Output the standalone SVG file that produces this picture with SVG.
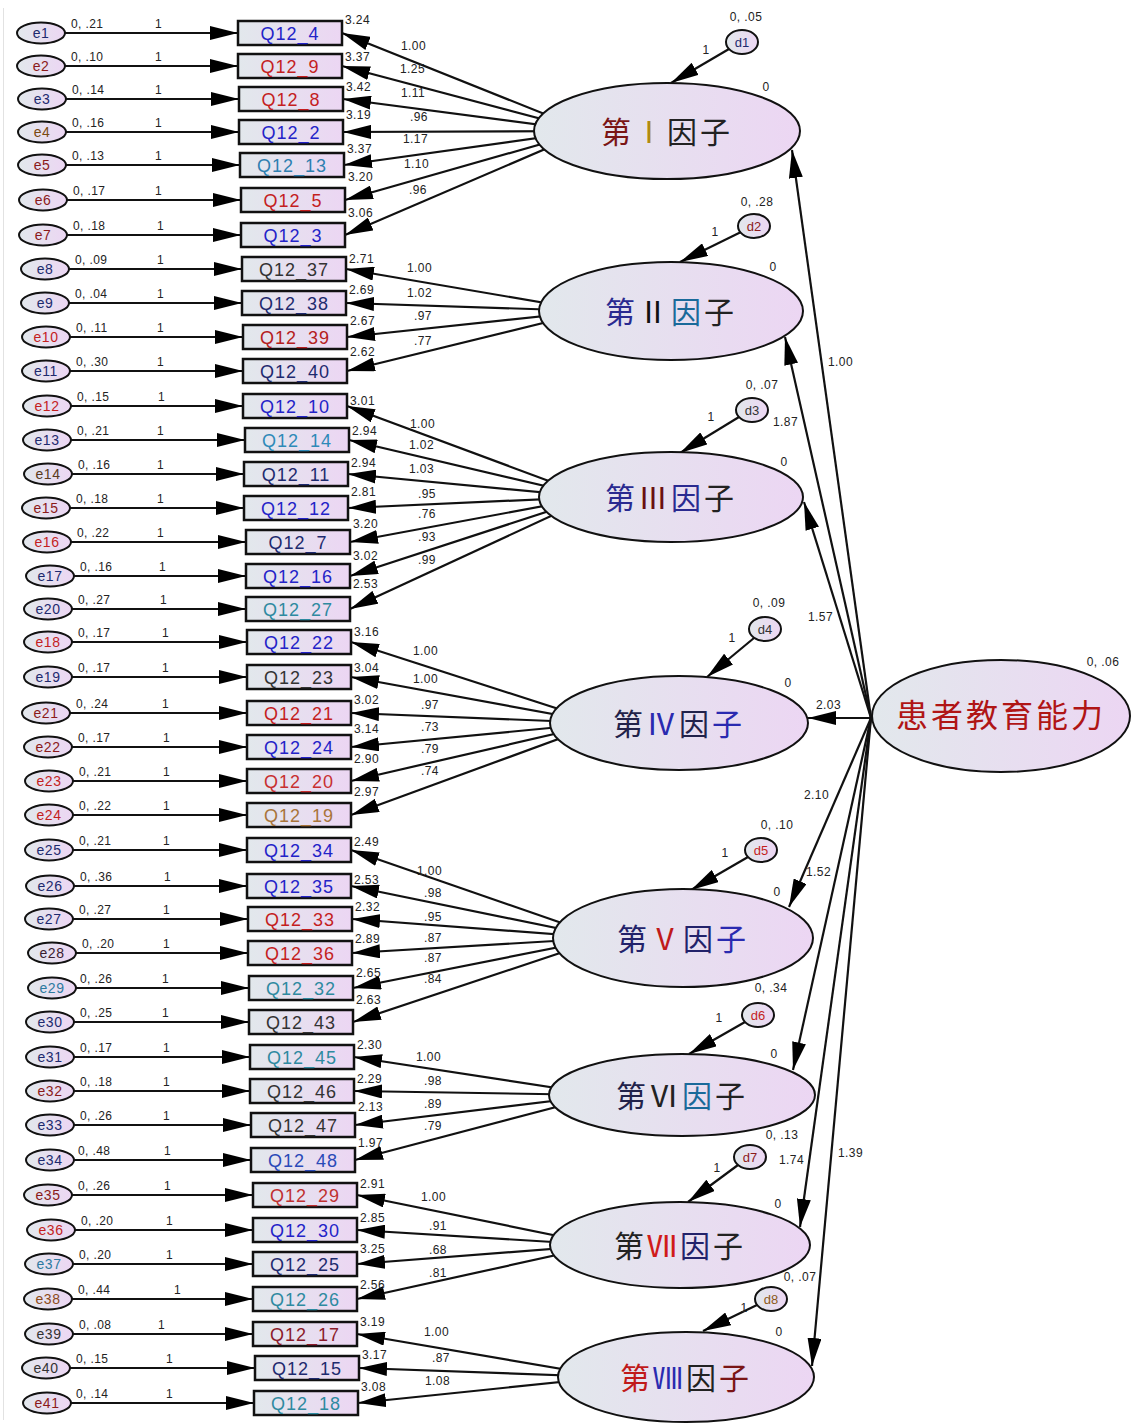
<svg xmlns="http://www.w3.org/2000/svg" width="1131" height="1423" viewBox="0 0 1131 1423">
<defs>
<linearGradient id="g" x1="0" y1="0" x2="1" y2="0"><stop offset="0" stop-color="#e2e8ec"/><stop offset="1" stop-color="#ecd6f3"/></linearGradient>
<marker id="ah" markerUnits="userSpaceOnUse" markerWidth="30" markerHeight="14" refX="28" refY="7" orient="auto"><path d="M0,0 L28,7 L0,14 z" fill="#000"/></marker>
<style>
.en ellipse,.dn ellipse,.fn ellipse{fill:url(#g);stroke:#111;stroke-width:2}
.bx{fill:url(#g);stroke:#111;stroke-width:2.5}
#connectors line{stroke:#111;stroke-width:2.2;fill:none;marker-end:url(#ah)}
.n{font-family:"Liberation Sans",Arial,sans-serif;font-size:12px;fill:#222;letter-spacing:0.4px}
.m{text-anchor:middle}
.el{font-family:"Liberation Sans",Arial,sans-serif;font-size:14px;text-anchor:middle;letter-spacing:0.5px}
.bl{font-family:"Liberation Sans",Arial,sans-serif;font-size:18px;text-anchor:middle;letter-spacing:1px}
.dl{font-family:"Liberation Sans",Arial,sans-serif;font-size:13px;text-anchor:middle}
.fl{font-family:"Noto Sans CJK SC","Noto Sans CJK JP",sans-serif;font-size:30px;text-anchor:middle;letter-spacing:3px}
.tl{font-family:"Noto Sans CJK SC","Noto Sans CJK JP",sans-serif;font-size:32px;text-anchor:middle;letter-spacing:3px;fill:#b01515}
</style>
</defs>
<rect width="1131" height="1423" fill="#fff"/>
<line x1="3.5" y1="8" x2="3.5" y2="1420" stroke="#e2e2e2" stroke-width="1"/>
<g id="connectors">
<line x1="65" y1="33" x2="238" y2="33"/>
<line x1="65" y1="66" x2="238" y2="66"/>
<line x1="66" y1="99" x2="239" y2="99"/>
<line x1="66" y1="132" x2="239" y2="132"/>
<line x1="66" y1="165" x2="240" y2="165"/>
<line x1="67" y1="200" x2="241" y2="200"/>
<line x1="67" y1="235" x2="241" y2="235"/>
<line x1="69" y1="269" x2="242" y2="269"/>
<line x1="69" y1="303" x2="242" y2="303"/>
<line x1="70" y1="337" x2="243" y2="337"/>
<line x1="70" y1="371" x2="243" y2="371"/>
<line x1="71" y1="406" x2="243" y2="406"/>
<line x1="71" y1="440" x2="245" y2="440"/>
<line x1="72" y1="474" x2="244" y2="474"/>
<line x1="70" y1="508" x2="244" y2="508"/>
<line x1="71" y1="542" x2="246" y2="542"/>
<line x1="74" y1="576" x2="246" y2="576"/>
<line x1="72" y1="609" x2="246" y2="609"/>
<line x1="72" y1="642" x2="247" y2="642"/>
<line x1="72" y1="677" x2="247" y2="677"/>
<line x1="70" y1="713" x2="247" y2="713"/>
<line x1="72" y1="747" x2="247" y2="747"/>
<line x1="73" y1="781" x2="247" y2="781"/>
<line x1="73" y1="815" x2="247" y2="815"/>
<line x1="73" y1="850" x2="247" y2="850"/>
<line x1="74" y1="886" x2="247" y2="886"/>
<line x1="73" y1="919" x2="248" y2="919"/>
<line x1="76" y1="953" x2="248" y2="953"/>
<line x1="76" y1="988" x2="249" y2="988"/>
<line x1="74" y1="1022" x2="249" y2="1022"/>
<line x1="74" y1="1057" x2="250" y2="1057"/>
<line x1="74" y1="1091" x2="250" y2="1091"/>
<line x1="74" y1="1125" x2="251" y2="1125"/>
<line x1="74" y1="1160" x2="251" y2="1160"/>
<line x1="72" y1="1195" x2="253" y2="1195"/>
<line x1="75" y1="1230" x2="253" y2="1230"/>
<line x1="73" y1="1264" x2="253" y2="1264"/>
<line x1="72" y1="1299" x2="253" y2="1299"/>
<line x1="73" y1="1334" x2="253" y2="1334"/>
<line x1="70" y1="1368" x2="255" y2="1368"/>
<line x1="71" y1="1403" x2="254" y2="1403"/>
<line x1="587" y1="131" x2="342" y2="33"/>
<line x1="587" y1="131" x2="342" y2="66"/>
<line x1="587" y1="131" x2="343" y2="99"/>
<line x1="587" y1="131" x2="343" y2="132"/>
<line x1="587" y1="131" x2="344" y2="165"/>
<line x1="587" y1="131" x2="345" y2="200"/>
<line x1="587" y1="131" x2="345" y2="235"/>
<line x1="592" y1="311" x2="346" y2="269"/>
<line x1="592" y1="311" x2="346" y2="303"/>
<line x1="592" y1="311" x2="347" y2="337"/>
<line x1="592" y1="311" x2="347" y2="371"/>
<line x1="592" y1="497" x2="347" y2="406"/>
<line x1="592" y1="497" x2="349" y2="440"/>
<line x1="592" y1="497" x2="348" y2="474"/>
<line x1="592" y1="497" x2="348" y2="508"/>
<line x1="592" y1="497" x2="350" y2="542"/>
<line x1="592" y1="497" x2="350" y2="576"/>
<line x1="592" y1="497" x2="350" y2="609"/>
<line x1="602" y1="723" x2="351" y2="642"/>
<line x1="602" y1="723" x2="351" y2="677"/>
<line x1="602" y1="723" x2="351" y2="713"/>
<line x1="602" y1="723" x2="351" y2="747"/>
<line x1="602" y1="723" x2="351" y2="781"/>
<line x1="602" y1="723" x2="351" y2="815"/>
<line x1="605" y1="938" x2="351" y2="850"/>
<line x1="605" y1="938" x2="351" y2="886"/>
<line x1="605" y1="938" x2="352" y2="919"/>
<line x1="605" y1="938" x2="352" y2="953"/>
<line x1="605" y1="938" x2="353" y2="988"/>
<line x1="605" y1="938" x2="353" y2="1022"/>
<line x1="602" y1="1095" x2="354" y2="1057"/>
<line x1="602" y1="1095" x2="354" y2="1091"/>
<line x1="602" y1="1095" x2="355" y2="1125"/>
<line x1="602" y1="1095" x2="355" y2="1160"/>
<line x1="602" y1="1245" x2="357" y2="1195"/>
<line x1="602" y1="1245" x2="357" y2="1230"/>
<line x1="602" y1="1245" x2="357" y2="1264"/>
<line x1="602" y1="1245" x2="357" y2="1299"/>
<line x1="609" y1="1377" x2="357" y2="1334"/>
<line x1="609" y1="1377" x2="359" y2="1368"/>
<line x1="609" y1="1377" x2="358" y2="1403"/>
<line x1="729" y1="49" x2="671" y2="83"/>
<line x1="741" y1="232" x2="680" y2="262"/>
<line x1="739" y1="417" x2="680" y2="453"/>
<line x1="754" y1="638" x2="707" y2="677"/>
<line x1="748" y1="857" x2="691" y2="890"/>
<line x1="745" y1="1022" x2="689" y2="1054"/>
<line x1="738" y1="1165" x2="688" y2="1202"/>
<line x1="757" y1="1305" x2="703" y2="1331"/>
<line x1="871" y1="718" x2="792" y2="150"/>
<line x1="871" y1="718" x2="785" y2="337"/>
<line x1="871" y1="718" x2="804" y2="502"/>
<line x1="871" y1="718" x2="808" y2="718"/>
<line x1="871" y1="718" x2="789" y2="907"/>
<line x1="871" y1="718" x2="793" y2="1070"/>
<line x1="871" y1="718" x2="800" y2="1227"/>
<line x1="871" y1="718" x2="812" y2="1366"/>
</g>
<g id="edge-labels" class="n">
<text x="155" y="28">1</text><text x="155" y="61">1</text><text x="155" y="94">1</text><text x="155" y="127">1</text><text x="155" y="160">1</text><text x="155" y="195">1</text><text x="157" y="230">1</text>
<text x="157" y="264">1</text><text x="157" y="298">1</text><text x="157" y="332">1</text><text x="157" y="366">1</text><text x="158" y="401">1</text><text x="157" y="435">1</text><text x="157" y="469">1</text>
<text x="157" y="503">1</text><text x="157" y="537">1</text><text x="159" y="571">1</text><text x="160" y="604">1</text><text x="162" y="637">1</text><text x="162" y="672">1</text><text x="162" y="708">1</text>
<text x="163" y="742">1</text><text x="163" y="776">1</text><text x="163" y="810">1</text><text x="163" y="845">1</text><text x="164" y="881">1</text><text x="163" y="914">1</text><text x="163" y="948">1</text>
<text x="162" y="983">1</text><text x="162" y="1017">1</text><text x="163" y="1052">1</text><text x="163" y="1086">1</text><text x="163" y="1120">1</text><text x="164" y="1155">1</text><text x="164" y="1190">1</text>
<text x="166" y="1225">1</text><text x="166" y="1259">1</text><text x="174" y="1294">1</text><text x="158" y="1329">1</text><text x="166" y="1363">1</text><text x="166" y="1398">1</text>
<text x="401" y="50">1.00</text><text x="400" y="73">1.25</text><text x="401" y="97">1.11</text><text x="410" y="121">.96</text><text x="403" y="143">1.17</text><text x="404" y="168">1.10</text><text x="409" y="194">.96</text>
<text x="407" y="272">1.00</text><text x="407" y="297">1.02</text><text x="414" y="320">.97</text><text x="414" y="345">.77</text>
<text x="410" y="428">1.00</text><text x="409" y="449">1.02</text><text x="409" y="473">1.03</text><text x="418" y="498">.95</text><text x="418" y="518">.76</text><text x="418" y="541">.93</text><text x="418" y="564">.99</text>
<text x="413" y="655">1.00</text><text x="413" y="683">1.00</text><text x="421" y="709">.97</text><text x="421" y="731">.73</text><text x="421" y="753">.79</text><text x="421" y="775">.74</text>
<text x="417" y="875">1.00</text><text x="424" y="897">.98</text><text x="424" y="921">.95</text><text x="424" y="942">.87</text><text x="424" y="962">.87</text><text x="424" y="983">.84</text>
<text x="416" y="1061">1.00</text><text x="424" y="1085">.98</text><text x="424" y="1108">.89</text><text x="424" y="1130">.79</text>
<text x="421" y="1201">1.00</text><text x="429" y="1230">.91</text><text x="429" y="1254">.68</text><text x="429" y="1277">.81</text>
<text x="424" y="1336">1.00</text><text x="432" y="1362">.87</text><text x="425" y="1385">1.08</text>
<text class="m" x="706" y="54">1</text><text class="m" x="715" y="236">1</text><text class="m" x="711" y="421">1</text><text class="m" x="732" y="642">1</text><text class="m" x="725" y="857">1</text><text class="m" x="719" y="1022">1</text><text class="m" x="717" y="1172">1</text><text class="m" x="744" y="1312">1</text>
<text x="828" y="366">1.00</text><text x="773" y="426">1.87</text><text x="808" y="621">1.57</text><text x="816" y="709">2.03</text><text x="804" y="799">2.10</text><text x="806" y="876">1.52</text><text x="779" y="1164">1.74</text><text x="838" y="1157">1.39</text>
</g>
<g id="e1" class="en"><ellipse cx="41" cy="33" rx="24" ry="10.5"/><text class="el" x="41" y="38" fill="#1e2a6e">e1</text><text class="n" x="71" y="28">0, .21</text></g>
<g id="e2" class="en"><ellipse cx="41" cy="66" rx="24" ry="10.5"/><text class="el" x="41" y="71" fill="#8b1a1a">e2</text><text class="n" x="71" y="61">0, .10</text></g>
<g id="e3" class="en"><ellipse cx="42" cy="99" rx="24" ry="10.5"/><text class="el" x="42" y="104" fill="#1e2a6e">e3</text><text class="n" x="72" y="94">0, .14</text></g>
<g id="e4" class="en"><ellipse cx="42" cy="132" rx="24" ry="10.5"/><text class="el" x="42" y="137" fill="#7a4a10">e4</text><text class="n" x="72" y="127">0, .16</text></g>
<g id="e5" class="en"><ellipse cx="42" cy="165" rx="24" ry="10.5"/><text class="el" x="42" y="170" fill="#8b1a1a">e5</text><text class="n" x="72" y="160">0, .13</text></g>
<g id="e6" class="en"><ellipse cx="43" cy="200" rx="24" ry="10.5"/><text class="el" x="43" y="205" fill="#8b1a1a">e6</text><text class="n" x="73" y="195">0, .17</text></g>
<g id="e7" class="en"><ellipse cx="43" cy="235" rx="24" ry="10.5"/><text class="el" x="43" y="240" fill="#8b1a1a">e7</text><text class="n" x="73" y="230">0, .18</text></g>
<g id="e8" class="en"><ellipse cx="45" cy="269" rx="24" ry="10.5"/><text class="el" x="45" y="274" fill="#1e2a6e">e8</text><text class="n" x="75" y="264">0, .09</text></g>
<g id="e9" class="en"><ellipse cx="45" cy="303" rx="24" ry="10.5"/><text class="el" x="45" y="308" fill="#1e2a6e">e9</text><text class="n" x="75" y="298">0, .04</text></g>
<g id="e10" class="en"><ellipse cx="46" cy="337" rx="24" ry="10.5"/><text class="el" x="46" y="342" fill="#c41e1e">e10</text><text class="n" x="76" y="332">0, .11</text></g>
<g id="e11" class="en"><ellipse cx="46" cy="371" rx="24" ry="10.5"/><text class="el" x="46" y="376" fill="#1e2a6e">e11</text><text class="n" x="76" y="366">0, .30</text></g>
<g id="e12" class="en"><ellipse cx="47" cy="406" rx="24" ry="10.5"/><text class="el" x="47" y="411" fill="#c41e1e">e12</text><text class="n" x="77" y="401">0, .15</text></g>
<g id="e13" class="en"><ellipse cx="47" cy="440" rx="24" ry="10.5"/><text class="el" x="47" y="445" fill="#1e2a6e">e13</text><text class="n" x="77" y="435">0, .21</text></g>
<g id="e14" class="en"><ellipse cx="48" cy="474" rx="24" ry="10.5"/><text class="el" x="48" y="479" fill="#5a3a20">e14</text><text class="n" x="78" y="469">0, .16</text></g>
<g id="e15" class="en"><ellipse cx="46" cy="508" rx="24" ry="10.5"/><text class="el" x="46" y="513" fill="#8b1a1a">e15</text><text class="n" x="76" y="503">0, .18</text></g>
<g id="e16" class="en"><ellipse cx="47" cy="542" rx="24" ry="10.5"/><text class="el" x="47" y="547" fill="#c41e1e">e16</text><text class="n" x="77" y="537">0, .22</text></g>
<g id="e17" class="en"><ellipse cx="50" cy="576" rx="24" ry="10.5"/><text class="el" x="50" y="581" fill="#1e2a6e">e17</text><text class="n" x="80" y="571">0, .16</text></g>
<g id="e20" class="en"><ellipse cx="48" cy="609" rx="24" ry="10.5"/><text class="el" x="48" y="614" fill="#1e2a6e">e20</text><text class="n" x="78" y="604">0, .27</text></g>
<g id="e18" class="en"><ellipse cx="48" cy="642" rx="24" ry="10.5"/><text class="el" x="48" y="647" fill="#c41e1e">e18</text><text class="n" x="78" y="637">0, .17</text></g>
<g id="e19" class="en"><ellipse cx="48" cy="677" rx="24" ry="10.5"/><text class="el" x="48" y="682" fill="#1e2a6e">e19</text><text class="n" x="78" y="672">0, .17</text></g>
<g id="e21" class="en"><ellipse cx="46" cy="713" rx="24" ry="10.5"/><text class="el" x="46" y="718" fill="#8b1a1a">e21</text><text class="n" x="76" y="708">0, .24</text></g>
<g id="e22" class="en"><ellipse cx="48" cy="747" rx="24" ry="10.5"/><text class="el" x="48" y="752" fill="#8b1a1a">e22</text><text class="n" x="78" y="742">0, .17</text></g>
<g id="e23" class="en"><ellipse cx="49" cy="781" rx="24" ry="10.5"/><text class="el" x="49" y="786" fill="#c41e1e">e23</text><text class="n" x="79" y="776">0, .21</text></g>
<g id="e24" class="en"><ellipse cx="49" cy="815" rx="24" ry="10.5"/><text class="el" x="49" y="820" fill="#c41e1e">e24</text><text class="n" x="79" y="810">0, .22</text></g>
<g id="e25" class="en"><ellipse cx="49" cy="850" rx="24" ry="10.5"/><text class="el" x="49" y="855" fill="#1e2a6e">e25</text><text class="n" x="79" y="845">0, .21</text></g>
<g id="e26" class="en"><ellipse cx="50" cy="886" rx="24" ry="10.5"/><text class="el" x="50" y="891" fill="#1e2a6e">e26</text><text class="n" x="80" y="881">0, .36</text></g>
<g id="e27" class="en"><ellipse cx="49" cy="919" rx="24" ry="10.5"/><text class="el" x="49" y="924" fill="#1e2a6e">e27</text><text class="n" x="79" y="914">0, .27</text></g>
<g id="e28" class="en"><ellipse cx="52" cy="953" rx="24" ry="10.5"/><text class="el" x="52" y="958" fill="#3a2030">e28</text><text class="n" x="82" y="948">0, .20</text></g>
<g id="e29" class="en"><ellipse cx="52" cy="988" rx="24" ry="10.5"/><text class="el" x="52" y="993" fill="#2e7aa0">e29</text><text class="n" x="80" y="983">0, .26</text></g>
<g id="e30" class="en"><ellipse cx="50" cy="1022" rx="24" ry="10.5"/><text class="el" x="50" y="1027" fill="#1e2a6e">e30</text><text class="n" x="80" y="1017">0, .25</text></g>
<g id="e31" class="en"><ellipse cx="50" cy="1057" rx="24" ry="10.5"/><text class="el" x="50" y="1062" fill="#1e2a6e">e31</text><text class="n" x="80" y="1052">0, .17</text></g>
<g id="e32" class="en"><ellipse cx="50" cy="1091" rx="24" ry="10.5"/><text class="el" x="50" y="1096" fill="#8b1a1a">e32</text><text class="n" x="80" y="1086">0, .18</text></g>
<g id="e33" class="en"><ellipse cx="50" cy="1125" rx="24" ry="10.5"/><text class="el" x="50" y="1130" fill="#1e2a6e">e33</text><text class="n" x="80" y="1120">0, .26</text></g>
<g id="e34" class="en"><ellipse cx="50" cy="1160" rx="24" ry="10.5"/><text class="el" x="50" y="1165" fill="#1e2a6e">e34</text><text class="n" x="78" y="1155">0, .48</text></g>
<g id="e35" class="en"><ellipse cx="48" cy="1195" rx="24" ry="10.5"/><text class="el" x="48" y="1200" fill="#8b1a1a">e35</text><text class="n" x="78" y="1190">0, .26</text></g>
<g id="e36" class="en"><ellipse cx="51" cy="1230" rx="24" ry="10.5"/><text class="el" x="51" y="1235" fill="#c41e1e">e36</text><text class="n" x="81" y="1225">0, .20</text></g>
<g id="e37" class="en"><ellipse cx="49" cy="1264" rx="24" ry="10.5"/><text class="el" x="49" y="1269" fill="#2e7aa0">e37</text><text class="n" x="79" y="1259">0, .20</text></g>
<g id="e38" class="en"><ellipse cx="48" cy="1299" rx="24" ry="10.5"/><text class="el" x="48" y="1304" fill="#8b4a1a">e38</text><text class="n" x="78" y="1294">0, .44</text></g>
<g id="e39" class="en"><ellipse cx="49" cy="1334" rx="24" ry="10.5"/><text class="el" x="49" y="1339" fill="#333">e39</text><text class="n" x="79" y="1329">0, .08</text></g>
<g id="e40" class="en"><ellipse cx="46" cy="1368" rx="24" ry="10.5"/><text class="el" x="46" y="1373" fill="#333">e40</text><text class="n" x="76" y="1363">0, .15</text></g>
<g id="e41" class="en"><ellipse cx="47" cy="1403" rx="24" ry="10.5"/><text class="el" x="47" y="1408" fill="#8b1a1a">e41</text><text class="n" x="76" y="1398">0, .14</text></g>
<g id="Q12_4"><rect class="bx" x="238" y="21" width="104" height="24"/><text class="bl" x="290" y="39.5" fill="#2323c8">Q12_4</text><text class="n" x="345" y="24">3.24</text></g>
<g id="Q12_9"><rect class="bx" x="238" y="54" width="104" height="24"/><text class="bl" x="290" y="72.5" fill="#c41e1e">Q12_9</text><text class="n" x="345" y="61">3.37</text></g>
<g id="Q12_8"><rect class="bx" x="239" y="87" width="104" height="24"/><text class="bl" x="291" y="105.5" fill="#c41e1e">Q12_8</text><text class="n" x="346" y="91">3.42</text></g>
<g id="Q12_2"><rect class="bx" x="239" y="120" width="104" height="24"/><text class="bl" x="291" y="138.5" fill="#2323c8">Q12_2</text><text class="n" x="346" y="119">3.19</text></g>
<g id="Q12_13"><rect class="bx" x="240" y="153" width="104" height="24"/><text class="bl" x="292" y="171.5" fill="#2e7fb0">Q12_13</text><text class="n" x="347" y="153">3.37</text></g>
<g id="Q12_5"><rect class="bx" x="241" y="188" width="104" height="24"/><text class="bl" x="293" y="206.5" fill="#c41e1e">Q12_5</text><text class="n" x="348" y="181">3.20</text></g>
<g id="Q12_3"><rect class="bx" x="241" y="223" width="104" height="24"/><text class="bl" x="293" y="241.5" fill="#2323c8">Q12_3</text><text class="n" x="348" y="217">3.06</text></g>
<g id="Q12_37"><rect class="bx" x="242" y="257" width="104" height="24"/><text class="bl" x="294" y="275.5" fill="#333">Q12_37</text><text class="n" x="349" y="263">2.71</text></g>
<g id="Q12_38"><rect class="bx" x="242" y="291" width="104" height="24"/><text class="bl" x="294" y="309.5" fill="#1e2a6e">Q12_38</text><text class="n" x="349" y="294">2.69</text></g>
<g id="Q12_39"><rect class="bx" x="243" y="325" width="104" height="24"/><text class="bl" x="295" y="343.5" fill="#b52020">Q12_39</text><text class="n" x="350" y="325">2.67</text></g>
<g id="Q12_40"><rect class="bx" x="243" y="359" width="104" height="24"/><text class="bl" x="295" y="377.5" fill="#1e2a6e">Q12_40</text><text class="n" x="350" y="356">2.62</text></g>
<g id="Q12_10"><rect class="bx" x="243" y="394" width="104" height="24"/><text class="bl" x="295" y="412.5" fill="#2323c8">Q12_10</text><text class="n" x="350" y="405">3.01</text></g>
<g id="Q12_14"><rect class="bx" x="245" y="428" width="104" height="24"/><text class="bl" x="297" y="446.5" fill="#2e8ab8">Q12_14</text><text class="n" x="352" y="435">2.94</text></g>
<g id="Q12_11"><rect class="bx" x="244" y="462" width="104" height="24"/><text class="bl" x="296" y="480.5" fill="#1e2a6e">Q12_11</text><text class="n" x="351" y="467">2.94</text></g>
<g id="Q12_12"><rect class="bx" x="244" y="496" width="104" height="24"/><text class="bl" x="296" y="514.5" fill="#2323c8">Q12_12</text><text class="n" x="351" y="496">2.81</text></g>
<g id="Q12_7"><rect class="bx" x="246" y="530" width="104" height="24"/><text class="bl" x="298" y="548.5" fill="#1e2a6e">Q12_7</text><text class="n" x="353" y="528">3.20</text></g>
<g id="Q12_16"><rect class="bx" x="246" y="564" width="104" height="24"/><text class="bl" x="298" y="582.5" fill="#2323c8">Q12_16</text><text class="n" x="353" y="560">3.02</text></g>
<g id="Q12_27"><rect class="bx" x="246" y="597" width="104" height="24"/><text class="bl" x="298" y="615.5" fill="#2e8aa0">Q12_27</text><text class="n" x="353" y="588">2.53</text></g>
<g id="Q12_22"><rect class="bx" x="247" y="630" width="104" height="24"/><text class="bl" x="299" y="648.5" fill="#2323c8">Q12_22</text><text class="n" x="354" y="636">3.16</text></g>
<g id="Q12_23"><rect class="bx" x="247" y="665" width="104" height="24"/><text class="bl" x="299" y="683.5" fill="#333">Q12_23</text><text class="n" x="354" y="672">3.04</text></g>
<g id="Q12_21"><rect class="bx" x="247" y="701" width="104" height="24"/><text class="bl" x="299" y="719.5" fill="#c41e1e">Q12_21</text><text class="n" x="354" y="704">3.02</text></g>
<g id="Q12_24"><rect class="bx" x="247" y="735" width="104" height="24"/><text class="bl" x="299" y="753.5" fill="#2323c8">Q12_24</text><text class="n" x="354" y="733">3.14</text></g>
<g id="Q12_20"><rect class="bx" x="247" y="769" width="104" height="24"/><text class="bl" x="299" y="787.5" fill="#c83030">Q12_20</text><text class="n" x="354" y="763">2.90</text></g>
<g id="Q12_19"><rect class="bx" x="247" y="803" width="104" height="24"/><text class="bl" x="299" y="821.5" fill="#a8743a">Q12_19</text><text class="n" x="354" y="796">2.97</text></g>
<g id="Q12_34"><rect class="bx" x="247" y="838" width="104" height="24"/><text class="bl" x="299" y="856.5" fill="#2323c8">Q12_34</text><text class="n" x="354" y="846">2.49</text></g>
<g id="Q12_35"><rect class="bx" x="247" y="874" width="104" height="24"/><text class="bl" x="299" y="892.5" fill="#2323c8">Q12_35</text><text class="n" x="354" y="884">2.53</text></g>
<g id="Q12_33"><rect class="bx" x="248" y="907" width="104" height="24"/><text class="bl" x="300" y="925.5" fill="#c41e1e">Q12_33</text><text class="n" x="355" y="911">2.32</text></g>
<g id="Q12_36"><rect class="bx" x="248" y="941" width="104" height="24"/><text class="bl" x="300" y="959.5" fill="#c41e1e">Q12_36</text><text class="n" x="355" y="943">2.89</text></g>
<g id="Q12_32"><rect class="bx" x="249" y="976" width="104" height="24"/><text class="bl" x="301" y="994.5" fill="#2e8aa0">Q12_32</text><text class="n" x="356" y="977">2.65</text></g>
<g id="Q12_43"><rect class="bx" x="249" y="1010" width="104" height="24"/><text class="bl" x="301" y="1028.5" fill="#333">Q12_43</text><text class="n" x="356" y="1004">2.63</text></g>
<g id="Q12_45"><rect class="bx" x="250" y="1045" width="104" height="24"/><text class="bl" x="302" y="1063.5" fill="#2e8aa0">Q12_45</text><text class="n" x="357" y="1049">2.30</text></g>
<g id="Q12_46"><rect class="bx" x="250" y="1079" width="104" height="24"/><text class="bl" x="302" y="1097.5" fill="#333">Q12_46</text><text class="n" x="357" y="1083">2.29</text></g>
<g id="Q12_47"><rect class="bx" x="251" y="1113" width="104" height="24"/><text class="bl" x="303" y="1131.5" fill="#333">Q12_47</text><text class="n" x="358" y="1111">2.13</text></g>
<g id="Q12_48"><rect class="bx" x="251" y="1148" width="104" height="24"/><text class="bl" x="303" y="1166.5" fill="#2a4ab8">Q12_48</text><text class="n" x="358" y="1147">1.97</text></g>
<g id="Q12_29"><rect class="bx" x="253" y="1183" width="104" height="24"/><text class="bl" x="305" y="1201.5" fill="#c03030">Q12_29</text><text class="n" x="360" y="1188">2.91</text></g>
<g id="Q12_30"><rect class="bx" x="253" y="1218" width="104" height="24"/><text class="bl" x="305" y="1236.5" fill="#2323c8">Q12_30</text><text class="n" x="360" y="1222">2.85</text></g>
<g id="Q12_25"><rect class="bx" x="253" y="1252" width="104" height="24"/><text class="bl" x="305" y="1270.5" fill="#1e2a6e">Q12_25</text><text class="n" x="360" y="1253">3.25</text></g>
<g id="Q12_26"><rect class="bx" x="253" y="1287" width="104" height="24"/><text class="bl" x="305" y="1305.5" fill="#2e8aa0">Q12_26</text><text class="n" x="360" y="1289">2.56</text></g>
<g id="Q12_17"><rect class="bx" x="253" y="1322" width="104" height="24"/><text class="bl" x="305" y="1340.5" fill="#8b1a2a">Q12_17</text><text class="n" x="360" y="1326">3.19</text></g>
<g id="Q12_15"><rect class="bx" x="255" y="1356" width="104" height="24"/><text class="bl" x="307" y="1374.5" fill="#1e2a6e">Q12_15</text><text class="n" x="362" y="1359">3.17</text></g>
<g id="Q12_18"><rect class="bx" x="254" y="1391" width="104" height="24"/><text class="bl" x="306" y="1409.5" fill="#2e8aa0">Q12_18</text><text class="n" x="361" y="1391">3.08</text></g>
<g id="F1" class="fn"><ellipse cx="667" cy="131" rx="133" ry="48"/><text class="fl" x="667" y="143"><tspan fill="#7a1515">第</tspan><tspan fill="#b08a10">Ⅰ</tspan><tspan fill="#222">因子</tspan></text><text class="n m" x="766" y="91">0</text></g>
<g id="F2" class="fn"><ellipse cx="671" cy="311" rx="132" ry="49"/><text class="fl" x="671" y="323"><tspan fill="#2a2a90">第</tspan><tspan fill="#111">Ⅱ</tspan><tspan fill="#1a6a9a">因</tspan><tspan fill="#222">子</tspan></text><text class="n m" x="773" y="271">0</text></g>
<g id="F3" class="fn"><ellipse cx="671" cy="497" rx="132" ry="45"/><text class="fl" x="671" y="509"><tspan fill="#2a2a90">第</tspan><tspan fill="#6a1010">Ⅲ</tspan><tspan fill="#2a2a90">因</tspan><tspan fill="#222">子</tspan></text><text class="n m" x="784" y="466">0</text></g>
<g id="F4" class="fn"><ellipse cx="679" cy="723" rx="129" ry="47"/><text class="fl" x="679" y="735"><tspan fill="#22224a">第</tspan><tspan fill="#2a2ab0">Ⅳ</tspan><tspan fill="#22224a">因</tspan><tspan fill="#2a2ab0">子</tspan></text><text class="n m" x="788" y="687">0</text></g>
<g id="F5" class="fn"><ellipse cx="683" cy="938" rx="130" ry="49"/><text class="fl" x="683" y="950"><tspan fill="#22226a">第</tspan><tspan fill="#c01a1a">Ⅴ</tspan><tspan fill="#22226a">因</tspan><tspan fill="#2a2ab0">子</tspan></text><text class="n m" x="777" y="896">0</text></g>
<g id="F6" class="fn"><ellipse cx="682" cy="1095" rx="133" ry="41"/><text class="fl" x="682" y="1107"><tspan fill="#22224a">第</tspan><tspan fill="#222">Ⅵ</tspan><tspan fill="#1a6a9a">因</tspan><tspan fill="#222">子</tspan></text><text class="n m" x="774" y="1058">0</text></g>
<g id="F7" class="fn"><ellipse cx="680" cy="1245" rx="130" ry="43"/><text class="fl" x="680" y="1257"><tspan fill="#222">第</tspan><tspan fill="#d01a1a">Ⅶ</tspan><tspan fill="#22226a">因</tspan><tspan fill="#222">子</tspan></text><text class="n m" x="778" y="1208">0</text></g>
<g id="F8" class="fn"><ellipse cx="686" cy="1377" rx="128" ry="45"/><text class="fl" x="686" y="1389"><tspan fill="#c01a1a">第</tspan><tspan fill="#2a2ab0">Ⅷ</tspan><tspan fill="#222">因</tspan><tspan fill="#7a1515">子</tspan></text><text class="n m" x="779" y="1336">0</text></g>
<g id="F0" class="fn"><ellipse cx="1001" cy="716" rx="129" ry="56"/><text class="tl" x="1001" y="727">患者教育能力</text><text class="n m" x="1103" y="666">0, .06</text></g>
<g id="d1" class="dn"><ellipse cx="742" cy="42" rx="16" ry="12"/><text class="dl" x="742" y="47" fill="#1e2a6e">d1</text><text class="n m" x="746" y="21">0, .05</text></g>
<g id="d2" class="dn"><ellipse cx="754" cy="226" rx="16" ry="12"/><text class="dl" x="754" y="231" fill="#8b1a1a">d2</text><text class="n m" x="757" y="206">0, .28</text></g>
<g id="d3" class="dn"><ellipse cx="752" cy="410" rx="16" ry="12"/><text class="dl" x="752" y="415" fill="#333">d3</text><text class="n m" x="762" y="389">0, .07</text></g>
<g id="d4" class="dn"><ellipse cx="765" cy="629" rx="16" ry="12"/><text class="dl" x="765" y="634" fill="#333">d4</text><text class="n m" x="769" y="607">0, .09</text></g>
<g id="d5" class="dn"><ellipse cx="761" cy="850" rx="16" ry="12"/><text class="dl" x="761" y="855" fill="#c41e1e">d5</text><text class="n m" x="777" y="829">0, .10</text></g>
<g id="d6" class="dn"><ellipse cx="758" cy="1015" rx="16" ry="12"/><text class="dl" x="758" y="1020" fill="#c41e1e">d6</text><text class="n m" x="771" y="992">0, .34</text></g>
<g id="d7" class="dn"><ellipse cx="750" cy="1157" rx="16" ry="12"/><text class="dl" x="750" y="1162" fill="#8b1a1a">d7</text><text class="n m" x="782" y="1139">0, .13</text></g>
<g id="d8" class="dn"><ellipse cx="771" cy="1299" rx="16" ry="12"/><text class="dl" x="771" y="1304" fill="#8b5a1a">d8</text><text class="n m" x="800" y="1281">0, .07</text></g>
</svg>
